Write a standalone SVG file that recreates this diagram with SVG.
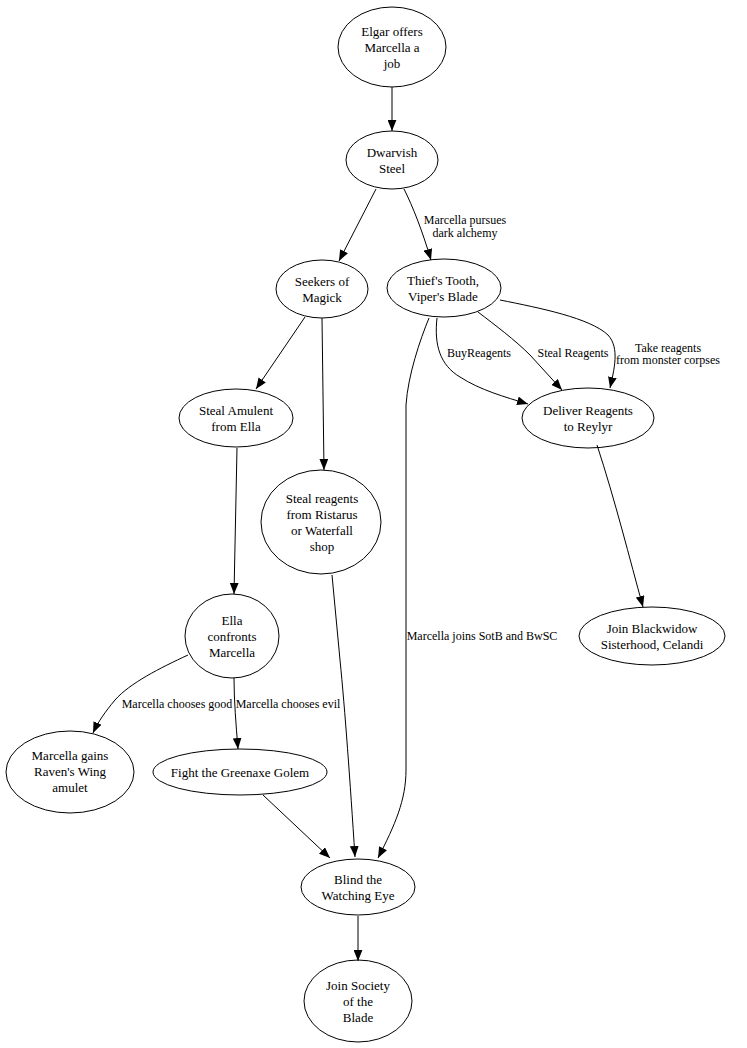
<svg xmlns="http://www.w3.org/2000/svg" width="747" height="1048" viewBox="0 0 747 1048">
<defs>
<marker id="ah" viewBox="0 0 10 8" refX="10" refY="4" markerWidth="11" markerHeight="9" markerUnits="userSpaceOnUse" orient="auto">
<path d="M0,0 L10,4 L0,8 Z" fill="#000"/>
</marker>
</defs>
<style>
.n ellipse{fill:none;stroke:#000;stroke-width:1}
.n text{font-size:13px;text-anchor:middle;fill:#000}
.e path{fill:none;stroke:#000;stroke-width:1;marker-end:url(#ah)}
.e text{font-size:12px;text-anchor:middle;fill:#000}
</style>
<rect width="747" height="1048" fill="#fff"/>
<g font-family="Liberation Serif, Times New Roman, serif">
<g id="edges" class="e">
<path d="M392,87 L392,131"/>
<path d="M376,189 L339,261"/>
<path d="M404,189 C413,207 422,230 431,260"/>
<text x="465" y="224">Marcella pursues</text>
<text x="465" y="237">dark alchemy</text>
<path d="M305,317 L256,389"/>
<path d="M322,318 L324,470"/>
<path d="M237,448 L234,594"/>
<path d="M437,318 C434,345 440,365 460,377 C480,390 505,397 528,404"/>
<text x="479" y="357">BuyReagents</text>
<path d="M478,312 C495,325 515,340 530,355 L562,390"/>
<text x="573" y="357">Steal Reagents</text>
<path d="M500,300 C540,308 590,318 608,335 C620,348 614,370 610,388"/>
<text x="668" y="352">Take reagents</text>
<text x="668" y="364">from monster corpses</text>
<path d="M429,318 C420,340 408,375 406,405 L406,770 C406,800 395,825 378,858"/>
<text x="482" y="640">Marcella joins SotB and BwSC</text>
<path d="M597,445 C615,500 630,560 643,607"/>
<path d="M188,655 C160,668 130,683 115,700 C105,712 98,722 93,733"/>
<text x="177" y="708">Marcella chooses good</text>
<path d="M234,678 C234,700 236,725 238,749"/>
<text x="288" y="708">Marcella chooses evil</text>
<path d="M332,575 L340,660 C345,710 350,780 355,857"/>
<path d="M263,795 L330,858"/>
<path d="M358,916 L358,961"/>
</g>
<g id="n1" class="n"><ellipse cx="392" cy="47" rx="54" ry="40"/><text x="392" y="36">Elgar offers</text><text x="392" y="52">Marcella a</text><text x="392" y="68">job</text></g>
<g id="n2" class="n"><ellipse cx="392" cy="160" rx="46" ry="29"/><text x="392" y="157">Dwarvish</text><text x="392" y="173">Steel</text></g>
<g id="n3" class="n"><ellipse cx="322" cy="289" rx="46" ry="29"/><text x="322" y="286">Seekers of</text><text x="322" y="302">Magick</text></g>
<g id="n4" class="n"><ellipse cx="444" cy="288" rx="57" ry="29"/><text x="443" y="285">Thief's Tooth,</text><text x="443" y="301">Viper's Blade</text></g>
<g id="n5" class="n"><ellipse cx="236" cy="418" rx="57" ry="29"/><text x="236" y="415">Steal Amulent</text><text x="236" y="431">from Ella</text></g>
<g id="n6" class="n"><ellipse cx="588" cy="418" rx="66" ry="30"/><text x="588" y="415">Deliver Reagents</text><text x="588" y="431">to Reylyr</text></g>
<g id="n7" class="n"><ellipse cx="321" cy="522" rx="60" ry="52"/><text x="322" y="503">Steal reagents</text><text x="322" y="519">from Ristarus</text><text x="322" y="535">or Waterfall</text><text x="322" y="551">shop</text></g>
<g id="n8" class="n"><ellipse cx="232" cy="636" rx="47" ry="42"/><text x="232" y="625">Ella</text><text x="232" y="641">confronts</text><text x="232" y="657">Marcella</text></g>
<g id="n9" class="n"><ellipse cx="652" cy="636" rx="73" ry="29"/><text x="652" y="633">Join Blackwidow</text><text x="652" y="649">Sisterhood, Celandi</text></g>
<g id="n10" class="n"><ellipse cx="70" cy="772" rx="64" ry="41"/><text x="70" y="760">Marcella gains</text><text x="70" y="776">Raven's Wing</text><text x="70" y="792">amulet</text></g>
<g id="n11" class="n"><ellipse cx="240" cy="772" rx="87" ry="23"/><text x="240" y="777">Fight the Greenaxe Golem</text></g>
<g id="n12" class="n"><ellipse cx="358" cy="887" rx="57" ry="28"/><text x="358" y="884">Blind the</text><text x="358" y="900">Watching Eye</text></g>
<g id="n13" class="n"><ellipse cx="358" cy="1001" rx="54" ry="41"/><text x="358" y="990">Join Society</text><text x="358" y="1006">of the</text><text x="358" y="1022">Blade</text></g>
</g>
</svg>
